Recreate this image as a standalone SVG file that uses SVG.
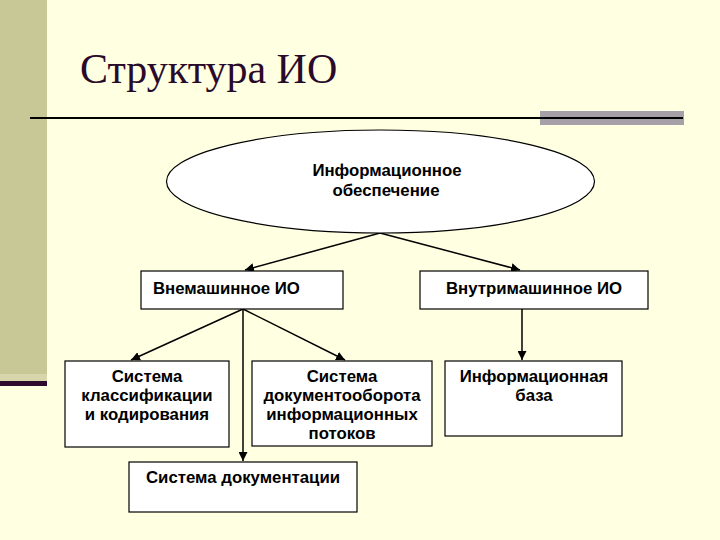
<svg xmlns="http://www.w3.org/2000/svg" width="720" height="540" viewBox="0 0 720 540">
<defs>
<style>
.bx{fill:#ffffff;stroke:#000;stroke-width:1.2}
.t{font-family:"Liberation Sans",Arial,sans-serif;font-weight:bold;font-size:16.8px;fill:#000}
.c{text-anchor:middle}
.ln{stroke:#000;stroke-width:1.5;fill:none}
</style>
<marker id="ah" viewBox="0 0 10 10" refX="10" refY="5" markerWidth="9" markerHeight="9" markerUnits="userSpaceOnUse" orient="auto">
<path d="M0,0 L10,5 L0,10 z" fill="#000"/>
</marker>
</defs>
<rect x="0" y="0" width="720" height="540" fill="#FFFFE1"/>
<rect x="0" y="0" width="47" height="374" fill="#C8C896"/>
<rect x="0" y="374" width="47" height="7" fill="#D6D6AA"/>
<rect x="0" y="381" width="47" height="5" fill="#2E0A2E"/>
<text x="80" y="83" font-family="Liberation Serif,'Times New Roman',serif" font-size="42" fill="#2A0A2A">Структура ИО</text>
<rect x="540" y="111" width="144" height="14" fill="#A8A0A8"/>
<line x1="30" y1="118" x2="683" y2="118" stroke="#000" stroke-width="2"/>
<g id="connectors">
<line class="ln" x1="380" y1="233" x2="245" y2="270" marker-end="url(#ah)"/>
<line class="ln" x1="380" y1="233" x2="520" y2="270" marker-end="url(#ah)"/>
<line class="ln" x1="522" y1="309" x2="522" y2="360" marker-end="url(#ah)"/>
<line class="ln" x1="243" y1="309" x2="131" y2="360" marker-end="url(#ah)"/>
<line class="ln" x1="243" y1="309" x2="345" y2="360" marker-end="url(#ah)"/>
<line class="ln" x1="243" y1="309" x2="243" y2="461" marker-end="url(#ah)" stroke-width="2"/>
</g>
<g id="n-io">
<ellipse cx="380.5" cy="181.5" rx="214" ry="51.5" class="bx"/>
<text class="t c" x="387" y="176">Информационное</text>
<text class="t c" x="386" y="196">обеспечение</text>
</g>
<g id="n-vne">
<rect x="141" y="271" width="202" height="38" class="bx"/>
<text class="t" x="153" y="294">Внемашинное ИО</text>
</g>
<g id="n-vnu">
<rect x="420" y="271" width="228" height="38" class="bx"/>
<text class="t c" x="534" y="294">Внутримашинное ИО</text>
</g>
<g id="n-klass">
<rect x="65" y="361" width="164" height="86" class="bx"/>
<text class="t c" x="147" y="382">Система</text>
<text class="t c" x="147" y="401">классификации</text>
<text class="t c" x="147" y="420">и кодирования</text>
</g>
<g id="n-docob">
<rect x="252" y="361" width="180" height="85" class="bx"/>
<text class="t c" x="342" y="382">Система</text>
<text class="t c" x="342" y="401">документооборота</text>
<text class="t c" x="342" y="420">информационных</text>
<text class="t c" x="342" y="439">потоков</text>
</g>
<g id="n-baza">
<rect x="445" y="361" width="177" height="75" class="bx"/>
<text class="t c" x="534" y="382">Информационная</text>
<text class="t c" x="534" y="401">база</text>
</g>
<g id="n-doc">
<rect x="129" y="462" width="228" height="50" class="bx"/>
<text class="t c" x="243" y="483">Система документации</text>
</g>
</svg>
